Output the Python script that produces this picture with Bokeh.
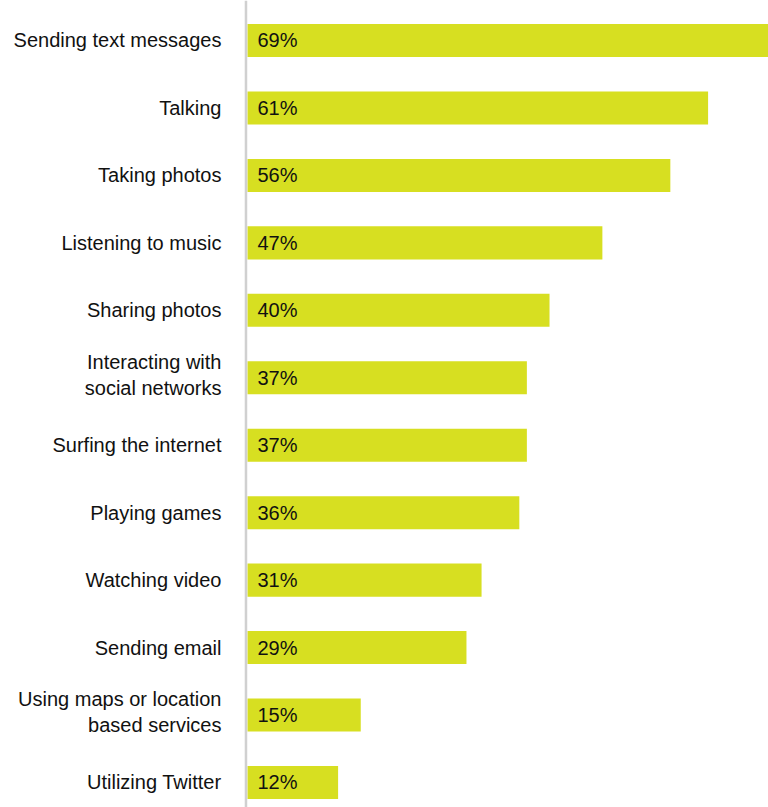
from bokeh.plotting import figure
from bokeh.models import ColumnDataSource, Range1d, Span
from bokeh.core.properties import value
from bokeh.embed import file_html
from bokeh.resources import INLINE

categories = [
    "Sending text messages",
    "Talking",
    "Taking photos",
    "Listening to music",
    "Sharing photos",
    "Interacting with\nsocial networks",
    "Surfing the internet",
    "Playing games",
    "Watching video",
    "Sending email",
    "Using maps or location\nbased services",
    "Utilizing Twitter",
]
values = [69, 61, 56, 47, 40, 37, 37, 36, 31, 29, 15, 12]
value_labels = [f"{v}%" for v in values]

positions = list(range(len(categories)))
# nudge two-line labels slightly upward, as in the original layout
label_shift = [-3 if "\n" in c else 0 for c in categories]
src = ColumnDataSource(dict(y=positions, v=values, cat=categories, lab=value_labels,
                            zero=[0] * len(values), shift=label_shift))

BAR = "#d7df21"
FONT = "Liberation Sans"

p = figure(width=768, height=807, output_backend="svg", toolbar_location=None,
           x_range=Range1d(-32.71, 69), y_range=Range1d(11.371, -0.593),
           min_border=0, min_border_left=0, min_border_right=0,
           min_border_top=0, min_border_bottom=0)
p.xaxis.visible = False
p.yaxis.visible = False
p.xgrid.visible = False
p.ygrid.visible = False
p.outline_line_color = None
p.background_fill_color = "white"
p.border_fill_color = "white"

p.hbar(y="y", left=0, right="v", height=0.49, source=src,
       fill_color=BAR, line_color=None)

p.add_layout(Span(location=-0.2, dimension="height", line_color="#d0d0d0",
                  line_width=2.5))

p.text(x="zero", y="y", text="cat", source=src, x_offset=-26, y_offset="shift",
       text_align="right", text_baseline="middle",
       text_font=value(FONT), text_font_size="20px", text_color="#111111",
       text_line_height=1.2)

p.text(x="zero", y="y", text="lab", source=src, x_offset=10,
       text_align="left", text_baseline="middle",
       text_font=value(FONT), text_font_size="20px", text_color="#111111")

open("out.html", "w").write(file_html(p, INLINE))
